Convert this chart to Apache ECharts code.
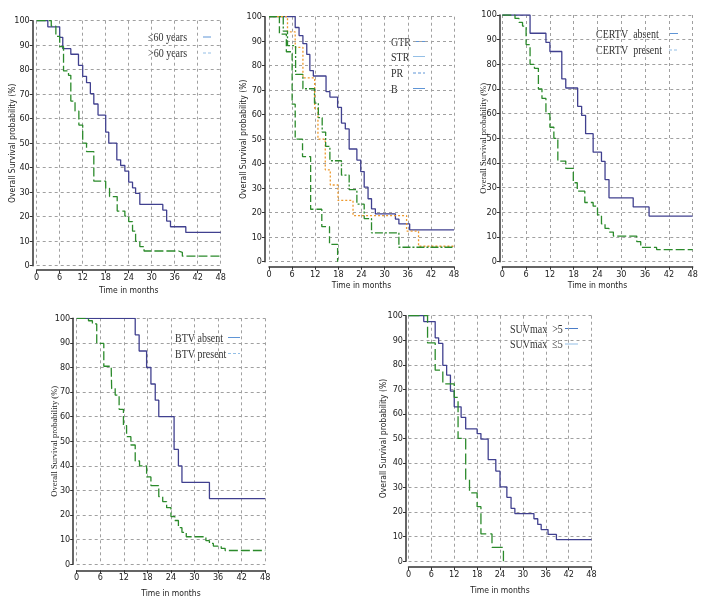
<!DOCTYPE html>
<html><head><meta charset="utf-8">
<script src="https://cdn.jsdelivr.net/npm/echarts@6/dist/echarts.min.js"></script>
<style>html,body{margin:0;padding:0;background:#fff}#c{width:714px;height:598px}</style>
</head><body><div id="c"></div>
<script>
// ---- Panel 1: age ----
const age_le60_t = [0, 2.9, 6, 6.8, 8.9, 10.9, 12, 13, 14, 14.9, 16, 18, 18.8, 20.9, 21.9, 23, 24, 25, 25.8, 26.9, 32.9, 33.9, 34.9, 38.9, 48];
const age_le60_s = [100, 97.5, 93.2, 88.6, 86.3, 81.8, 77.3, 74.7, 70.2, 66, 61.5, 54.5, 50, 43.2, 40.9, 38.6, 34.1, 31.8, 29.5, 25, 22.7, 18.2, 15.9, 13.6, 13.6];
const age_gt60_t = [0, 3.8, 5, 6, 7, 8.3, 8.9, 10, 11, 12, 13, 14.9, 18, 19, 21, 23, 24, 25, 25.8, 26.9, 28, 37, 38, 48];
const age_gt60_s = [100, 97.8, 93.6, 89.4, 79.5, 77.7, 67.2, 63.1, 57.4, 50, 46.6, 34.5, 31.6, 28.2, 22.3, 20.2, 18, 14.1, 9.9, 7.8, 6, 5.4, 3.9, 3.9];
// ---- Panel 2: resection ----
const gtr_t = [0, 6.8, 7.8, 8.8, 9.8, 10.6, 11.5, 14.8, 15.8, 17.8, 18.8, 19.8, 20.8, 22.8, 23.8, 24.7, 25.7, 26.6, 27.6, 32.8, 33.7, 36.5, 48];
const gtr_s = [100, 95.6, 92.3, 89, 84.6, 78, 75.8, 69.4, 67.2, 63, 56.6, 54.2, 46, 41.5, 36.8, 30.4, 25.7, 21.6, 19.5, 17.4, 15.4, 13, 13];
const str_t = [0, 4.8, 6.8, 8.8, 11.85, 12.7, 14.6, 15.9, 17.9, 21.8, 35.7, 38.8, 48];
const str_s = [100, 93.8, 87.5, 75, 62.5, 50, 37.5, 31.3, 25, 18.8, 12.5, 6.3, 6.3];
const pr_t = [0, 2.7, 4.5, 6, 6.8, 8.7, 10.8, 13.7, 15.7, 17.8];
const pr_s = [100, 92.9, 85.7, 64.3, 50, 42.9, 21.4, 14.3, 7.1, 0];
const b_t = [0, 3.7, 4.8, 6.9, 8.8, 11.8, 12.8, 13.8, 14.7, 15.8, 18.8, 20.8, 22.8, 24.7, 26.6, 33.7, 48];
const b_s = [100, 94.1, 88.2, 76.5, 70.6, 64.7, 58.8, 52.9, 47.1, 41.2, 35.3, 29.4, 23.5, 17.6, 11.8, 5.9, 5.9];
// ---- Panel 3: CERTV ----
const certv_abs_t = [0, 7, 11, 12, 15, 16, 19, 20, 21, 22.9, 25, 25.9, 26.9, 33, 37, 48];
const certv_abs_s = [100, 92.6, 88.9, 85.2, 74.1, 70.4, 63, 59.3, 51.9, 44.4, 40.7, 33.3, 25.9, 22.2, 18.5, 18.5];
const certv_pre_t = [0, 3.2, 4.2, 5.1, 6, 7, 8.1, 9.1, 10, 11, 12, 13, 14, 16, 17.9, 18.9, 20.8, 22.9, 24, 25, 25.9, 26.9, 28, 33.9, 34.9, 38.9, 48];
const certv_pre_s = [100, 98.6, 97, 95.5, 88, 80, 78.4, 70, 66.2, 60, 54.5, 50, 40.8, 37.8, 32, 28.6, 24, 22.5, 19, 15.3, 13.5, 12, 10.4, 8.1, 5.8, 4.9, 4.9];
// ---- Panel 4: BTV ----
const btv_abs_t = [0, 14.9, 15.9, 17.8, 18.9, 20, 20.9, 24.8, 25.9, 26.8, 33.8, 48];
const btv_abs_s = [100, 93.3, 86.7, 80, 73.3, 66.7, 60, 46.7, 40, 33.3, 26.7, 26.7];
const btv_pre_t = [0, 3, 4, 5.1, 6.9, 8.8, 8.9, 9.8, 10.8, 11.9, 12.7, 13.8, 14.9, 16, 17.8, 18.9, 20.9, 21.9, 22.9, 24, 25, 25.9, 26.8, 27.9, 32.9, 33.8, 34.8, 36.8, 37.8, 48];
const btv_pre_s = [100, 99, 97.7, 89.8, 80.5, 79, 71.4, 68.8, 63, 56.4, 51.9, 48.5, 42, 40, 35.5, 32, 27.5, 25.5, 23, 19.4, 17.8, 14.9, 13, 11.2, 9.6, 8.5, 7.4, 6.5, 5.6, 5.6];
// ---- Panel 5: SUVmax ----
const suv_gt5_t = [0, 4, 7, 7.9, 9, 10, 11, 12, 13.8, 15, 18, 19, 20.9, 22.9, 24, 25.8, 26.9, 27.9, 32.9, 33.9, 34.8, 36.6, 38.8, 48];
const suv_gt5_s = [100, 97.6, 91, 88.7, 79.8, 75.8, 69.3, 62.9, 58.6, 53.9, 52, 49.7, 41.4, 36.7, 30.3, 26, 21.5, 19.4, 17.3, 15, 12.9, 10.9, 8.8, 8.8];
const suv_le5_t = [0, 5, 7, 9, 12, 13, 15, 16, 18, 19, 21.9, 24.9];
const suv_le5_s = [100, 88.9, 77.8, 72.2, 66.7, 50, 33.3, 27.8, 22.2, 11.1, 5.6, 0];

const xTitle = 'Time in months';
const yTitle = 'Overall Survival probability (%)';
const legendNames = [
  ['\u226460 years', '>60 years'],
  ['GTR', 'STR', 'PR', 'B'],
  ['CERTV  absent', 'CERTV  present'],
  ['BTV absent', 'BTV present'],
  ['SUVmax  >5', 'SUVmax  \u22645']
];

const BLUE = '#40408f', GREEN = '#2b8a2b', ORANGE = '#ee9a2e';
const NARROW = "'Liberation Sans Narrow','DejaVu Sans Condensed','Liberation Sans',sans-serif";
const SERIF = "'Liberation Serif','DejaVu Serif',serif";

// panel layout: grid box + axis offsets + name gaps + title font
const panels = [
  {left: 36.7, top: 20.7, width: 184, height: 245, yOff: 4, xOff: 4.5, yGap: 15, xGap: 16, yFont: NARROW},
  {left: 269, top: 16.7, width: 185, height: 245, yOff: 4, xOff: 5, yGap: 17, xGap: 15, yFont: NARROW},
  {left: 502.3, top: 15, width: 190.4, height: 246.7, yOff: 2.5, xOff: 5, yGap: 12, xGap: 15, yFont: SERIF},
  {left: 76.7, top: 318.3, width: 188.5, height: 246, yOff: 3.5, xOff: 6, yGap: 14, xGap: 19, yFont: SERIF},
  {left: 408.5, top: 315.7, width: 183, height: 245.5, yOff: 2.5, xOff: 6, yGap: 18, xGap: 19, yFont: NARROW}
];

const grid = [], xAxis = [], yAxis = [];
panels.forEach((p, i) => {
  grid.push({left: p.left, top: p.top, width: p.width, height: p.height, containLabel: false, outerBoundsMode: 'none'});
  xAxis.push({
    gridIndex: i, type: 'value', min: 0, max: 48, interval: 6, offset: p.xOff,
    axisLine: {show: true, onZero: false, lineStyle: {color: '#333', width: 1.5}},
    axisTick: {show: true, length: 3, lineStyle: {color: '#333'}},
    axisLabel: {fontSize: 9, color: '#222', margin: 3, fontFamily: NARROW},
    splitLine: {show: true, lineStyle: {type: [3, 3], color: '#a0a0a0', width: 1}},
    name: xTitle, nameLocation: 'middle', nameGap: p.xGap, nameMoveOverlap: false,
    nameTextStyle: {fontSize: 8.5, color: '#222', fontFamily: NARROW}
  });
  yAxis.push({
    gridIndex: i, type: 'value', min: 0, max: 100, interval: 10, offset: p.yOff,
    axisLine: {show: true, onZero: false, lineStyle: {color: '#333', width: 1.5}},
    axisTick: {show: true, length: 3, lineStyle: {color: '#333'}},
    axisLabel: {fontSize: 9, color: '#222', margin: 3, fontFamily: NARROW},
    splitLine: {show: true, lineStyle: {type: [3, 3], color: '#a0a0a0', width: 1}},
    name: yTitle, nameLocation: 'middle', nameGap: p.yGap, nameMoveOverlap: false,
    nameTextStyle: {fontSize: 8.5, color: '#222', fontFamily: p.yFont}
  });
});

function km(t, s) { return t.map((v, i) => [v, s[i]]); }
function line(name, idx, t, s, color, type) {
  return {
    name, type: 'line', step: 'end', xAxisIndex: idx, yAxisIndex: idx,
    data: km(t, s), symbol: 'none', silent: true,
    lineStyle: {color, width: 1.3, type: type || 'solid'}
  };
}
const DASH = [9, 3];
const series = [
  line(legendNames[0][0], 0, age_le60_t, age_le60_s, BLUE),
  line(legendNames[0][1], 0, age_gt60_t, age_gt60_s, GREEN, DASH),
  line('GTR', 1, gtr_t, gtr_s, BLUE),
  line('STR', 1, str_t, str_s, ORANGE, [2, 2]),
  line('PR', 1, pr_t, pr_s, GREEN, [7, 3]),
  line('B', 1, b_t, b_s, GREEN, [8, 2, 2, 2]),
  line(legendNames[2][0], 2, certv_abs_t, certv_abs_s, BLUE),
  line(legendNames[2][1], 2, certv_pre_t, certv_pre_s, GREEN, DASH),
  line(legendNames[3][0], 3, btv_abs_t, btv_abs_s, BLUE),
  line(legendNames[3][1], 3, btv_pre_t, btv_pre_s, GREEN, DASH),
  line(legendNames[4][0], 4, suv_gt5_t, suv_gt5_s, BLUE),
  line(legendNames[4][1], 4, suv_le5_t, suv_le5_s, GREEN, [11, 4])
];

// legend boxes drawn as graphics (text on left, short line on right)
const LB = '#5f95d6', LB2 = '#94bfe6';
const legendLayout = [
  {x: 148, ys: [38, 54], lx: [203, 211], styles: [[LB, 'solid'], [LB2, [3, 2]]]},
  {x: 391, ys: [42.5, 57.5, 74, 89.5], lx: [413, 425], styles: [[LB, 'solid'], [LB2, 'solid'], [LB, [3, 2]], [LB, 'solid']]},
  {x: 596, ys: [34.5, 51], lx: [669, 678], styles: [[LB, 'solid'], [LB2, [3, 2]]]},
  {x: 175, ys: [338.5, 354.5], lx: [228, 240], styles: [[LB, 'solid'], [LB2, [3, 2]]]},
  {x: 510, ys: [329.5, 345], lx: [565, 578], styles: [['#4a7cc8', 'solid'], [LB2, 'solid']]}
];
const graphic = [];
legendLayout.forEach((L, i) => {
  legendNames[i].forEach((nm, j) => {
    graphic.push({type: 'text', x: L.x, y: L.ys[j], scaleX: 0.8, silent: true,
      style: {text: nm, fontSize: 12.5, fontFamily: SERIF, fill: '#333', verticalAlign: 'middle', align: 'left'}});
    graphic.push({type: 'line', silent: true,
      shape: {x1: L.lx[0], y1: L.ys[j] - 1, x2: L.lx[1], y2: L.ys[j] - 1},
      style: {stroke: L.styles[j][0], lineWidth: 1, lineDash: L.styles[j][1] === 'solid' ? null : L.styles[j][1]}});
  });
});

const chart = echarts.init(document.getElementById('c'), null, {renderer: 'canvas'});
chart.setOption({animation: false, backgroundColor: '#fff', grid, xAxis, yAxis, series, graphic});
</script></body></html>
